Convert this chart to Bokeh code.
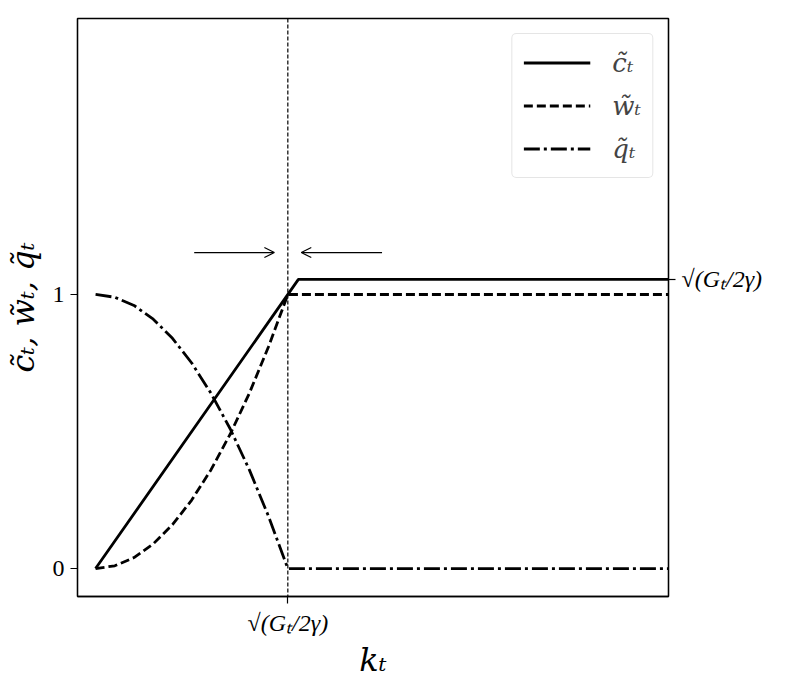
from bokeh.plotting import figure
from bokeh.models import Span, Arrow, OpenHead, LinearAxis, FixedTicker, Legend, LegendItem, Range1d
from bokeh.embed import file_html
from bokeh.resources import INLINE

# ---- data ----
k_c = [0.0, 1.055, 3.0]
c_vals = [0.0, 1.055, 1.055]

k_curve = [0.0, 0.1, 0.2, 0.3, 0.4, 0.5, 0.6, 0.7, 0.8, 0.9, 1.0, 3.0]
w_vals = [0.0, 0.01, 0.04, 0.09, 0.16, 0.25, 0.36, 0.49, 0.64, 0.81, 1.0, 1.0]
q_vals = [1.0, 0.99, 0.96, 0.91, 0.84, 0.75, 0.64, 0.51, 0.36, 0.19, 0.0, 0.0]

k_star = 1.0
c_plateau = 1.055
arrow_y = 1.153
arrow_right_x = [0.513, 0.93]
arrow_left_x = [1.49, 1.07]

y_ticks = [0, 1]
y_tick_labels = ["0", "1"]
sqrt_label = "\u221a(G\u209c/2\u03b3)"
legend_labels = ["c\u0303\u209c", "w\u0303\u209c", "q\u0303\u209c"]
x_label = "k\u209c"
y_label = "c\u0303\u209c, w\u0303\u209c, q\u0303\u209c"

FONT = "Liberation Serif"
MFONT = "DejaVu Serif"

p = figure(frame_width=591, frame_height=578,
           x_range=Range1d(-0.094, 2.98), y_range=Range1d(-0.102, 2.007),
           output_backend="svg", toolbar_location=None,
           min_border_left=77, min_border_top=18, min_border_right=10, min_border_bottom=10)
p.grid.visible = False
p.outline_line_color = "black"
p.outline_line_width = 1.3
p.background_fill_color = "white"
p.border_fill_color = "white"

r_c = p.line(k_c, c_vals, line_color="black", line_width=2.8)
r_w = p.line(k_curve, w_vals, line_color="black", line_width=2.8, line_dash="9 4")
r_q = p.line(k_curve, q_vals, line_color="black", line_width=2.8, line_dash="16 4 3 4")

p.add_layout(Span(location=k_star, dimension="height", line_color="black",
                  line_width=1.2, line_dash="4 2"))

for xs in (arrow_right_x, arrow_left_x):
    p.add_layout(Arrow(end=OpenHead(size=10, line_width=1.2, line_color="black"),
                       x_start=xs[0], y_start=arrow_y, x_end=xs[1], y_end=arrow_y,
                       line_width=1.2, line_color="black"))

# axes
xa = p.xaxis[0]
xa.ticker = FixedTicker(ticks=[k_star])
xa.major_label_overrides = {k_star: sqrt_label}
xa.axis_label = x_label
ya = p.yaxis[0]
ya.ticker = FixedTicker(ticks=y_ticks)
ya.major_label_overrides = {t: l for t, l in zip(y_ticks, y_tick_labels)}
ya.axis_label = y_label

ra = LinearAxis(ticker=FixedTicker(ticks=[c_plateau]),
                major_label_overrides={c_plateau: sqrt_label})
p.add_layout(ra, "right")

for ax in (xa, ya, ra):
    ax.axis_line_color = "black"
    ax.axis_line_width = 1.3
    ax.major_tick_line_color = "black"
    ax.major_tick_line_width = 1.2
    ax.major_tick_out = 7
    ax.major_tick_in = 0
    ax.minor_tick_line_color = None
    ax.major_label_text_font = FONT
    ax.major_label_text_color = "black"
    ax.axis_label_text_font = MFONT
    ax.axis_label_text_font_style = "italic"
    ax.axis_label_text_color = "black"

xa.major_label_text_font_size = "24px"
xa.major_label_text_font_style = "italic"
xa.axis_label_text_font_size = "32px"
xa.major_label_standoff = 6
xa.axis_label_standoff = 2
ya.major_label_text_font_size = "24px"
ya.axis_label_text_font_size = "32px"
ya.major_label_standoff = 6
ya.axis_label_standoff = 8
ra.major_label_text_font_size = "24px"
ra.major_label_text_font_style = "italic"
ra.major_label_standoff = 6

legend = Legend(items=[LegendItem(label=legend_labels[0], renderers=[r_c]),
                       LegendItem(label=legend_labels[1], renderers=[r_w]),
                       LegendItem(label=legend_labels[2], renderers=[r_q])],
                location="top_right", margin=15, padding=11, spacing=8,
                glyph_width=67, glyph_height=35, label_standoff=22,
                label_text_font=MFONT, label_text_font_style="italic",
                label_text_font_size="26px",
                border_line_color="#cccccc", border_line_width=1,
                background_fill_alpha=0.8, border_radius=5)
p.add_layout(legend)

open("out.html", "w").write(file_html(p, INLINE))
